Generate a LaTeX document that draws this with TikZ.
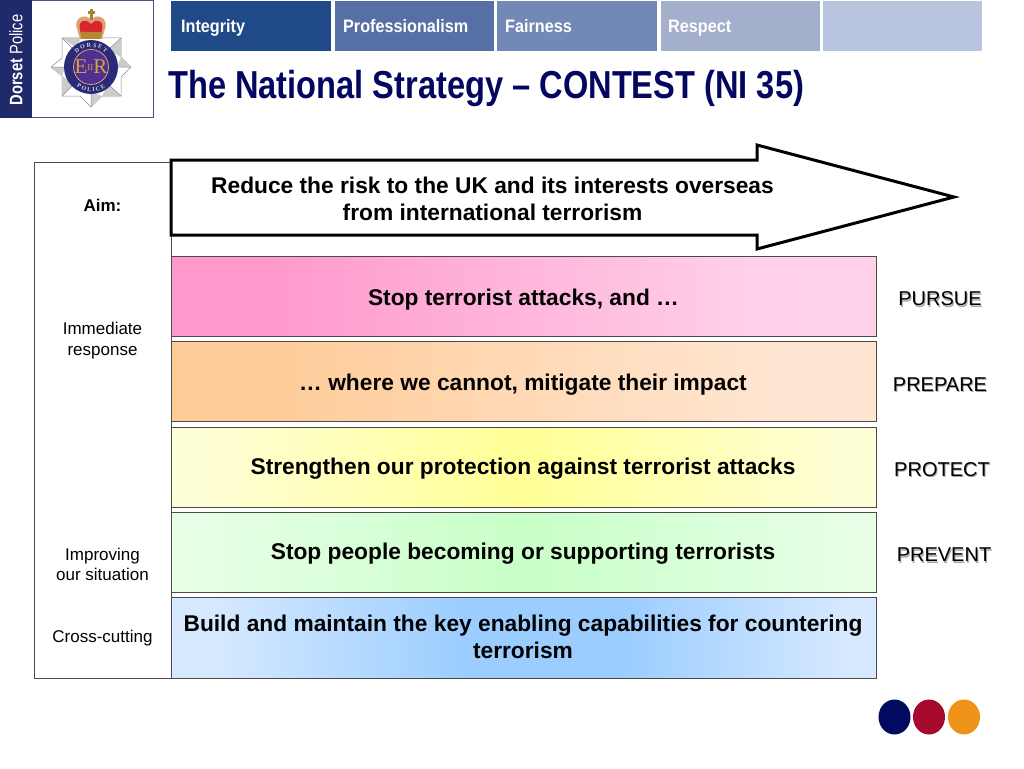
\documentclass[tikz,border=0pt]{standalone}
\usepackage{fontspec}
\setmainfont{Liberation Sans}
\newfontfamily\crestfont{Liberation Serif}
\usetikzlibrary{decorations.text,shapes.geometric}
\definecolor{navy}{HTML}{03075F}
\definecolor{tabA}{HTML}{1F4A87}
\definecolor{tabB}{HTML}{5670A6}
\definecolor{tabC}{HTML}{7389B5}
\definecolor{tabD}{HTML}{A4AFCC}
\definecolor{tabE}{HTML}{B9C4DE}
\definecolor{logoband}{HTML}{1F2A6B}
\definecolor{logoline}{HTML}{4A4F80}
\definecolor{gold}{HTML}{D0A63A}
\definecolor{crownbase}{HTML}{B8862E}
\definecolor{ringblue}{HTML}{2A2A78}
\definecolor{innerpurple}{HTML}{4F3090}
\definecolor{crownred}{HTML}{D8262C}
\definecolor{ermine}{HTML}{DCA07A}
\definecolor{dotA}{HTML}{000A5E}
\definecolor{dotB}{HTML}{A50A2D}
\definecolor{dotC}{HTML}{EE9218}
\definecolor{bandedge}{HTML}{4A4A4A}
\pgfdeclarehorizontalshading{pinkband}{100bp}{color(0bp)=(rgb,255:red,255;green,153;blue,204); color(32bp)=(rgb,255:red,255;green,153;blue,204); color(66bp)=(rgb,255:red,255;green,208;blue,232); color(100bp)=(rgb,255:red,255;green,214;blue,236)}
\pgfdeclarehorizontalshading{orangeband}{100bp}{color(0bp)=(rgb,255:red,255;green,204;blue,153); color(32bp)=(rgb,255:red,255;green,204;blue,153); color(68bp)=(rgb,255:red,255;green,230;blue,210); color(100bp)=(rgb,255:red,255;green,232;blue,212)}
\pgfdeclarehorizontalshading{yellowband}{100bp}{color(0bp)=(rgb,255:red,255;green,255;blue,215); color(27bp)=(rgb,255:red,255;green,255;blue,215); color(50bp)=(rgb,255:red,255;green,255;blue,150); color(73bp)=(rgb,255:red,255;green,255;blue,215); color(100bp)=(rgb,255:red,255;green,255;blue,215)}
\pgfdeclarehorizontalshading{greenband}{100bp}{color(0bp)=(rgb,255:red,230;green,255;blue,230); color(27bp)=(rgb,255:red,230;green,255;blue,230); color(50bp)=(rgb,255:red,200;green,255;blue,200); color(73bp)=(rgb,255:red,230;green,255;blue,230); color(100bp)=(rgb,255:red,230;green,255;blue,230)}
\pgfdeclarehorizontalshading{blueband}{100bp}{color(0bp)=(rgb,255:red,214;green,233;blue,255); color(28bp)=(rgb,255:red,214;green,233;blue,255); color(46bp)=(rgb,255:red,155;green,205;blue,255); color(57bp)=(rgb,255:red,155;green,205;blue,255); color(73bp)=(rgb,255:red,214;green,233;blue,255); color(100bp)=(rgb,255:red,214;green,233;blue,255)}
\tikzset{
  tabbox/.style={draw=none,minimum width=160pt,minimum height=50pt,anchor=north west,inner sep=0pt},
  tablabel/.style={anchor=base west,text=white,inner sep=0pt,font=\fontsize{18}{18}\selectfont\bfseries,xscale=0.9,transform shape},
  bandbox/.style={draw=bandedge,line width=1pt},
  bandtext/.style={align=center,inner sep=0pt,font=\fontsize{22.75}{27}\selectfont\bfseries},
  sidetext/.style={align=center,inner sep=0pt,font=\fontsize{17}{20.5}\selectfont},
  strategy/.style={inner sep=0pt,font=\fontsize{20}{20}\selectfont},
  strategyshadow/.style={inner sep=0pt,font=\fontsize{20}{20}\selectfont,text=black!35},
  dot/.style={ellipse,draw=none,minimum width=32pt,minimum height=35pt,inner sep=0pt},
  facetA/.style={fill=white,draw=black!45,line width=0.5pt},
  facetB/.style={fill=black!20}
}
\begin{document}
\begin{tikzpicture}[x=1pt,y=-1pt]
\useasboundingbox[fill=white] (0,0) rectangle (1024,768);
% logo frame and brand band
\draw[logoline,line width=1pt,fill=white] (0.5,0.5) rectangle (153,117);
\fill[logoband] (0,0) rectangle (32,118);
\node[rotate=90,xscale=0.82,transform shape,text=white,inner sep=0pt,font=\fontsize{18}{18}\selectfont] (brand) at (16,60) {\textbf{Dorset} Police};
% star: square with four points
\draw[facetA] (62,38) -- (81,38) -- (91,28) -- (101,38) -- (121,38) -- (121,57) -- (131,67) -- (121,77) -- (121,96) -- (102,96) -- (91,107) -- (80,96) -- (62,96) -- (62,76) -- (51,67) -- (62,58) -- cycle;
\fill[facetB] (62,38) -- (81,38) -- (76,48) -- cycle;
\fill[facetB] (121,38) -- (121,57) -- (108,50) -- cycle;
\fill[facetB] (121,96) -- (102,96) -- (108,84) -- cycle;
\fill[facetB] (62,96) -- (62,76) -- (74,84) -- cycle;
\fill[facetB] (131,67) -- (121,57) -- (117,67) -- cycle;
\fill[facetB] (91,107) -- (102,96) -- (91,92) -- cycle;
\fill[facetB] (51,67) -- (62,76) -- (65,67) -- cycle;
\draw[black!45,line width=0.5pt] (62,38) -- (72,48) (121,38) -- (110,48) (121,96) -- (110,86) (62,96) -- (72,86) (51,67) -- (65,67) (131,67) -- (117,67) (91,107) -- (91,92);
% crown
\fill[ermine] (80,39) -- (76.5,27) .. controls (75,20) and (80,15.5) .. (86,16.5) -- (91,19) -- (96,16.5) .. controls (102,15.5) and (107,20) .. (105.5,27) -- (102,39) -- cycle;
\fill[crownred] (80.5,32) -- (79.5,27) .. controls (79,22) and (83,20) .. (87,21) -- (91,24) -- (95,21) .. controls (99,20) and (103,22) .. (102.5,27) -- (101.5,32) -- cycle;
\fill[crownbase] (80,32) -- (102,32) -- (100.5,39) -- (81.5,39) -- cycle;
\fill[gold!80!black] (89.5,9) rectangle (92.5,20);
\fill[gold!80!black] (87.5,11.5) rectangle (94.5,14);
% badge
\fill[ringblue] (91,67) circle[radius=27pt];
\fill[innerpurple] (91,67) circle[radius=17.5pt];
\draw[ermine,line width=0.8pt] (91,67) circle[radius=17.5pt];
\node[text=gold,inner sep=0pt,font=\crestfont\fontsize{21}{21}\selectfont] (cypher) at (91,67) {E\raisebox{3pt}{\fontsize{9}{9}\selectfont II}R};
\path[decorate,decoration={text along path,text align=center,text={|\crestfont\fontsize{6}{6}\selectfont\bfseries\color{black!15}|D O R S E T}}] (91,67) ++(150:20pt) arc[start angle=150,end angle=30,radius=20pt];
\path[decorate,decoration={text along path,text align=center,text={|\crestfont\fontsize{6}{6}\selectfont\bfseries\color{black!15}|P O L I C E}}] (91,67) ++(212:24.5pt) arc[start angle=212,end angle=328,radius=24.5pt];
% tabs
\node[tabbox,fill=tabA,minimum width=160pt] (t1) at (171,1) {};
\node[tabbox,fill=tabB,minimum width=159pt] (t2) at (335,1) {};
\node[tabbox,fill=tabC,minimum width=160pt] (t3) at (497,1) {};
\node[tabbox,fill=tabD,minimum width=159pt] (t4) at (661,1) {};
\node[tabbox,fill=tabE,minimum width=159pt] (t5) at (823,1) {};
\node[tablabel] (l1) at (181,33) {Integrity};
\node[tablabel] (l2) at (343,33) {Professionalism};
\node[tablabel] (l3) at (505,33) {Fairness};
\node[tablabel] (l4) at (668,33) {Respect};
% title
\node[anchor=base west,inner sep=0pt,text=navy,font=\fontsize{39}{39}\selectfont\bfseries,xscale=0.836,transform shape] (title) at (168,98.5) {The National Strategy – CONTEST (NI 35)};
% left box
\draw[black!70,line width=1pt,fill=white] (34,162) rectangle (171,678);
% arrow
\draw[black,line width=3pt,fill=white,miter limit=20] (171,160) -- (757,160) -- (757,145) -- (954,197) -- (757,249) -- (757,235) -- (171,235) -- cycle;
\node[bandtext] (aimtext) at (492.5,198.5) {Reduce the risk to the UK and its interests overseas\\from international terrorism};
% bands
\path[shading=pinkband,bandbox,draw] (171,256) rectangle (876,336);
\path[shading=orangeband,bandbox,draw] (171,341) rectangle (876,421);
\path[shading=yellowband,bandbox,draw] (171,427) rectangle (876,507);
\path[shading=greenband,bandbox,draw] (171,512) rectangle (876,592);
\path[shading=blueband,bandbox,draw] (171,597) rectangle (876,678);
\node[bandtext] (b1) at (523.5,299.5) {Stop terrorist attacks, and …};
\node[bandtext] (b2) at (523,385) {… where we cannot, mitigate their impact};
\node[bandtext] (b3) at (523,469) {Strengthen our protection against terrorist attacks};
\node[bandtext] (b4) at (523,554) {Stop people becoming or supporting terrorists};
\node[bandtext] (b5) at (523,637) {Build and maintain the key enabling capabilities for countering\\terrorism};
% left labels
\node[sidetext,font=\fontsize{17}{21}\selectfont\bfseries] (s0) at (102.5,205) {Aim:};
\node[sidetext] (s1) at (102.5,340.5) {Immediate\\response};
\node[sidetext] (s2) at (102.5,564.5) {Improving\\our situation};
\node[sidetext] (s3) at (102.5,638) {Cross-cutting};
% right labels
\node[strategyshadow] (r1s) at (941,300.5) {PURSUE};
\node[strategyshadow] (r2s) at (941,386) {PREPARE};
\node[strategyshadow] (r3s) at (943,471) {PROTECT};
\node[strategyshadow] (r4s) at (945,556.5) {PREVENT};
\node[strategy] (r1) at (940,299) {PURSUE};
\node[strategy] (r2) at (940,384.5) {PREPARE};
\node[strategy] (r3) at (942,469.5) {PROTECT};
\node[strategy] (r4) at (944,555) {PREVENT};
% dots
\node[dot,fill=dotA] (d1) at (894.5,717) {};
\node[dot,fill=dotB] (d2) at (929,717) {};
\node[dot,fill=dotC] (d3) at (964,717) {};
\end{tikzpicture}
\end{document}
